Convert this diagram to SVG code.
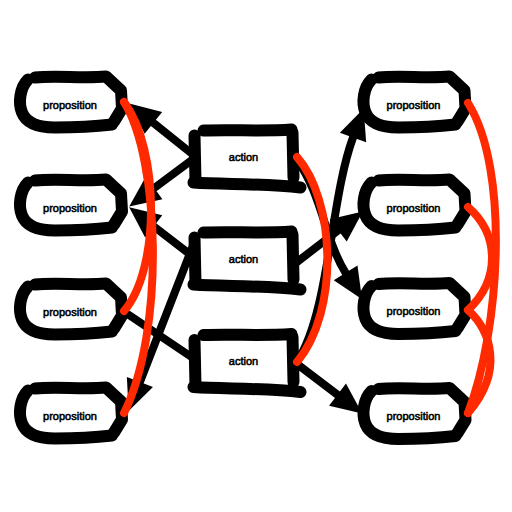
<svg xmlns="http://www.w3.org/2000/svg" width="512" height="512" viewBox="0 0 512 512">
<style>
.nb{fill:none;stroke:#000;stroke-width:12;stroke-linecap:round;stroke-linejoin:round}
.lbl{font-family:"Liberation Sans",Arial,sans-serif;font-size:11px;fill:#000;text-anchor:middle;stroke:#000;stroke-width:0.55}
.edge{fill:none;stroke:#000;stroke-width:8;stroke-linecap:round}
.arr{marker-end:url(#ah)}
.mutex{fill:none;stroke:#ff2a00;stroke-width:8;stroke-linecap:round}
</style>
<defs>
<marker id="ah" markerUnits="userSpaceOnUse" viewBox="0 0 32 28" markerWidth="32" markerHeight="28" refX="0" refY="14" orient="auto" overflow="visible">
<path d="M0,0 L31,14 L0,28 z" fill="#000"/>
</marker>
<g id="propShape">
<path class="nb" d="M-35,-27 C-15,-29 15,-26 36,-28 L51,-14 L52,4 L44,17"/>
<path class="nb" d="M-42,-25 C-50,-17 -52,-2 -48,8 C-44,18 -32,23 -15,23 C5,23 25,22 42,20"/>
</g>
<g id="actShape">
<path class="nb" d="M-40,-26 C-10,-27 20,-25 48,-27"/>
<path class="nb" d="M49,-24 L50,21"/>
<path class="nb" d="M-49,-21 L-48,25"/>
<path class="nb" d="M-50,26 C-20,28 20,27 57,31"/>
</g>
</defs>
<rect width="512" height="512" fill="#fff"/>
<g id="p0a" transform="translate(70,104.5)"><use href="#propShape"/><text class="lbl" x="0" y="4">proposition</text></g>
<g id="p0b" transform="translate(70,207.5)"><use href="#propShape"/><text class="lbl" x="0" y="4">proposition</text></g>
<g id="p0c" transform="translate(70,311.5)"><use href="#propShape"/><text class="lbl" x="0" y="4">proposition</text></g>
<g id="p0d" transform="translate(70,415.5)"><use href="#propShape"/><text class="lbl" x="0" y="4">proposition</text></g>
<g id="a1" transform="translate(243.5,156.5)"><use href="#actShape"/><text class="lbl" x="0" y="4">action</text></g>
<g id="a2" transform="translate(243.5,258.5)"><use href="#actShape"/><text class="lbl" x="0" y="4">action</text></g>
<g id="a3" transform="translate(243.5,361)"><use href="#actShape"/><text class="lbl" x="0" y="4">action</text></g>
<g id="p1a" transform="translate(413.5,104.5)"><use href="#propShape"/><text class="lbl" x="0" y="4">proposition</text></g>
<g id="p1b" transform="translate(413.5,207.5)"><use href="#propShape"/><text class="lbl" x="0" y="4">proposition</text></g>
<g id="p1c" transform="translate(413.5,311)"><use href="#propShape"/><text class="lbl" x="0" y="4">proposition</text></g>
<g id="p1d" transform="translate(413.5,416)"><use href="#propShape"/><text class="lbl" x="0" y="4">proposition</text></g>
<g id="connectors">
<path class="edge arr" d="M196,157 L153.4,122.8"/>
<path class="edge arr" d="M196,157 L154.1,188.1"/>
<path class="edge arr" d="M196,259 L153.7,226.3"/>
<path class="edge arr" d="M194,243 L139.9,382"/>
<path class="edge" d="M126,313 L196,360"/>
<path class="edge arr" d="M297,160 C322,195 325,240 345.6,272.9"/>
<path class="edge arr" d="M297,362 C330,310 330,200 353,137.5"/>
<path class="edge arr" d="M297,262 L338.2,230.3"/>
<path class="edge arr" d="M297,364 L337.5,394.7"/>
</g>
<g id="mutexes">
<path class="mutex" d="M124,102 C160,150 160,270 124,311"/>
<path class="mutex" d="M124,102 C160,160 165,330 124,413"/>
<path class="mutex" d="M297,157 C335,200 340,310 297,362"/>
<path class="mutex" d="M468,103 C510,170 500,330 468,413"/>
<path class="mutex" d="M468,207 C500,235 500,280 468,310"/>
<path class="mutex" d="M468,310 C490,330 505,370 468,413"/>
</g>
</svg>
